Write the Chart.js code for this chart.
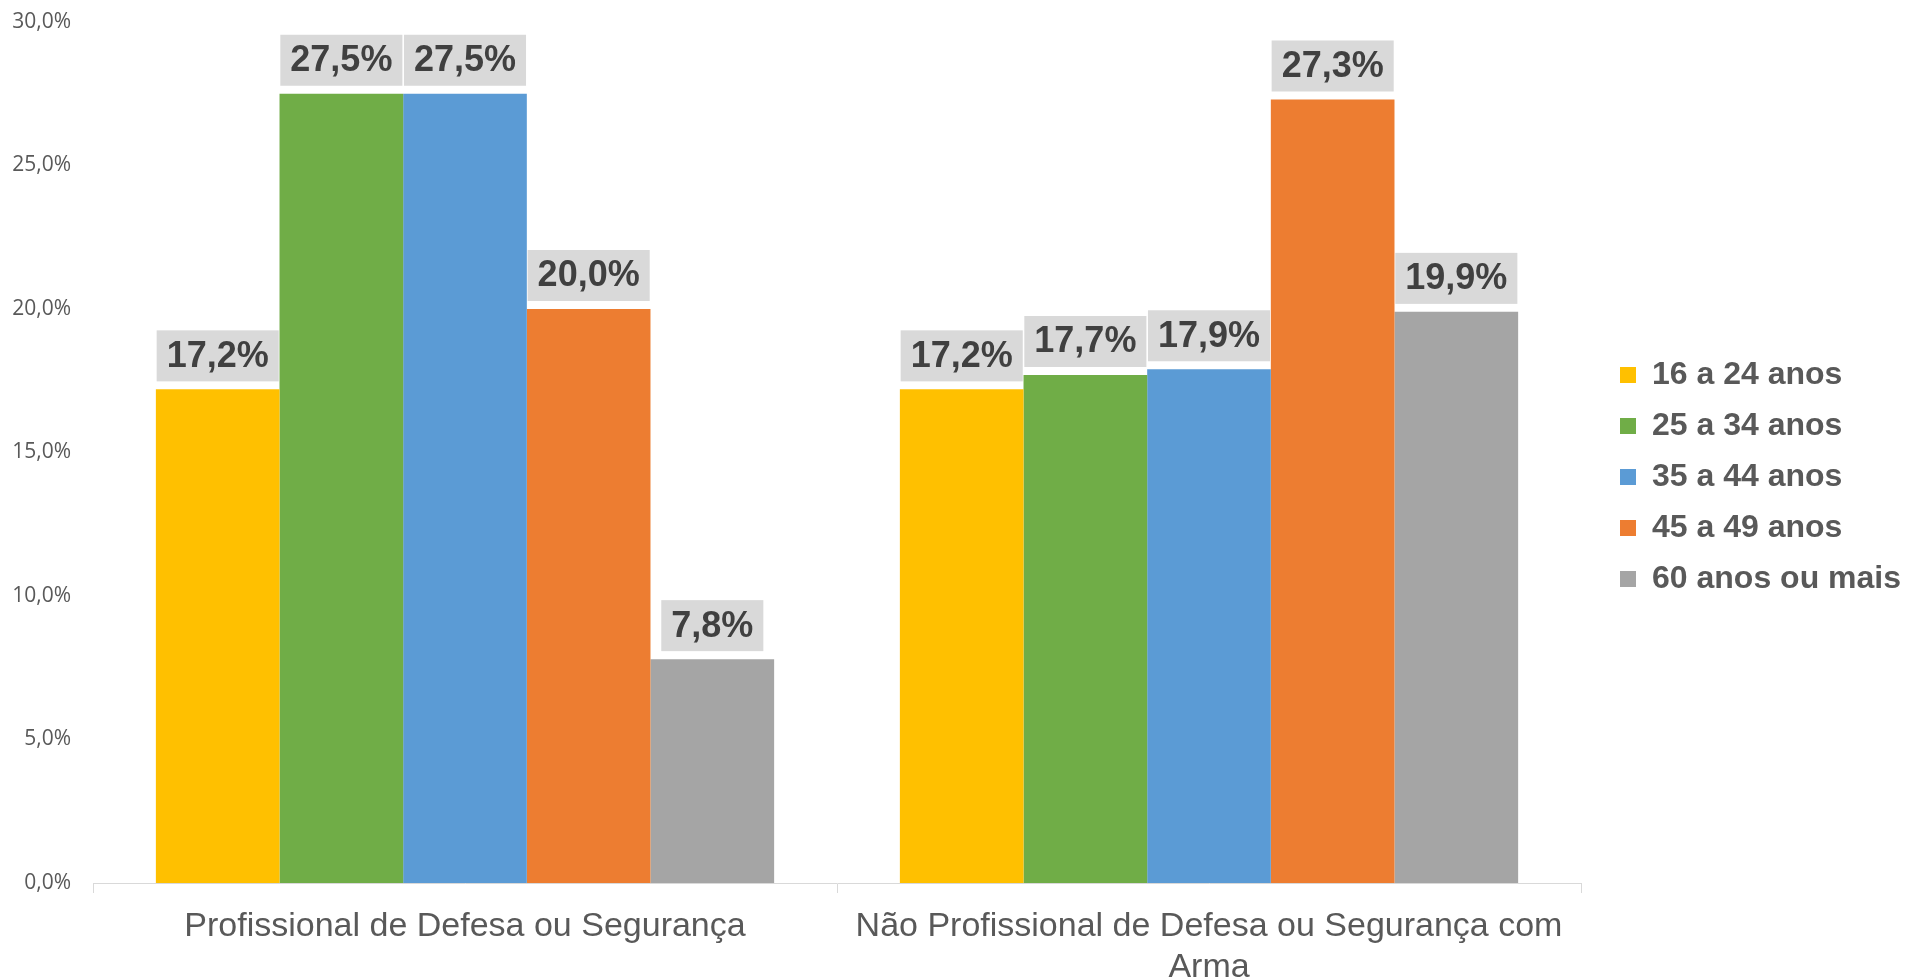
<!DOCTYPE html>
<html>
<head>
<meta charset="utf-8">
<script src="https://cdn.jsdelivr.net/npm/chart.js@4.4.1/dist/chart.umd.min.js"></script>
<style>
  html, body { margin: 0; padding: 0; background: #ffffff; }
  #wrap { position: relative; width: 1907px; height: 980px; }
</style>
</head>
<body>
<div id="wrap"><canvas id="c"></canvas></div>
<script>
const categories = ["Profissional de Defesa ou Segurança", ["Não Profissional de Defesa ou Segurança com", "Arma"]];
const seriesNames = ["16 a 24 anos", "25 a 34 anos", "35 a 44 anos", "45 a 49 anos", "60 anos ou mais"];
const seriesColors = ["#FFC000", "#70AD47", "#5B9BD5", "#ED7D31", "#A5A5A5"];
const age16to24 = [17.2, 17.2];
const age25to34 = [27.5, 17.7];
const age35to44 = [27.5, 17.9];
const age45to49 = [20.0, 27.3];
const age60plus = [7.8, 19.9];
const yTicks = [0, 5, 10, 15, 20, 25, 30];

const seriesValues = [age16to24, age25to34, age35to44, age45to49, age60plus];
const fmt = v => v.toFixed(1).replace('.', ',') + '%';

const labelPlugin = {
  id: 'valueBoxes',
  afterDatasetsDraw(chart) {
    const ctx = chart.ctx;
    ctx.save();
    ctx.font = 'bold 36px "Liberation Sans", Arial, sans-serif';
    ctx.textAlign = 'center';
    ctx.textBaseline = 'middle';
    chart.data.datasets.forEach((ds, di) => {
      const meta = chart.getDatasetMeta(di);
      meta.data.forEach((bar, i) => {
        const txt = fmt(ds.data[i]);
        const tw = ctx.measureText(txt).width;
        const w = tw + 20, h = 51;
        const bottom = bar.y - 8;
        ctx.fillStyle = '#D9D9D9';
        ctx.fillRect(bar.x - w / 2, bottom - h, w, h);
        ctx.fillStyle = '#404040';
        ctx.fillText(txt, bar.x, bottom - h / 2 + 1);
      });
    });
    ctx.restore();
  }
};

new Chart(document.getElementById('c'), {
  type: 'bar',
  data: {
    labels: categories,
    datasets: seriesNames.map((name, k) => ({
      label: name,
      data: seriesValues[k],
      backgroundColor: seriesColors[k],
      borderWidth: 0,
      categoryPercentage: 0.831,
      barPercentage: 1.0
    }))
  },
  options: {
    responsive: true,
    maintainAspectRatio: false,
    animation: false,
    layout: { padding: { top: 22, bottom: 0, left: 0, right: -4 } },
    plugins: {
      tooltip: { enabled: false },
      legend: {
        position: 'right',
        align: 'start',
        title: { display: true, text: '', font: { size: 10, lineHeight: 1 }, padding: { top: 308, bottom: 0 } },
        labels: {
          boxWidth: 16,
          boxHeight: 16,
          padding: 19,
          color: '#595959',
          font: { family: '"Liberation Sans", Arial, sans-serif', size: 32, weight: 'bold' }
        }
      }
    },
    scales: {
      x: {
        grid: { display: true, drawOnChartArea: false, drawTicks: true, tickLength: 10, color: '#D9D9D9', offset: true },
        border: { display: true, color: '#D9D9D9', width: 1 },
        ticks: {
          color: '#595959',
          padding: 14,
          maxRotation: 0,
          minRotation: 0,
          font: { family: '"Liberation Sans", Arial, sans-serif', size: 34, lineHeight: 1.18 }
        },
        afterFit(axis) { axis.height = 97; }
      },
      y: {
        min: 0,
        max: 30,
        afterBuildTicks(axis) { axis.ticks = yTicks.map(v => ({ value: v })); },
        grid: { display: false, drawTicks: false },
        border: { display: false },
        ticks: {
          color: '#595959',
          padding: 22,
          font: { family: '"Open Sans", "Noto Sans", sans-serif', size: 21 },
          callback: v => fmt(v)
        },
        afterFit(axis) { axis.width = 93; axis.paddingTop = 0; axis.paddingBottom = 0; }
      },
      spacer: {
        type: 'linear',
        position: 'right',
        display: true,
        grid: { display: false, drawTicks: false },
        border: { display: false },
        ticks: { display: false },
        afterFit(axis) { axis.width = 20; axis.paddingTop = 0; axis.paddingBottom = 0; }
      }
    }
  },
  plugins: [labelPlugin]
});
</script>
</body>
</html>
